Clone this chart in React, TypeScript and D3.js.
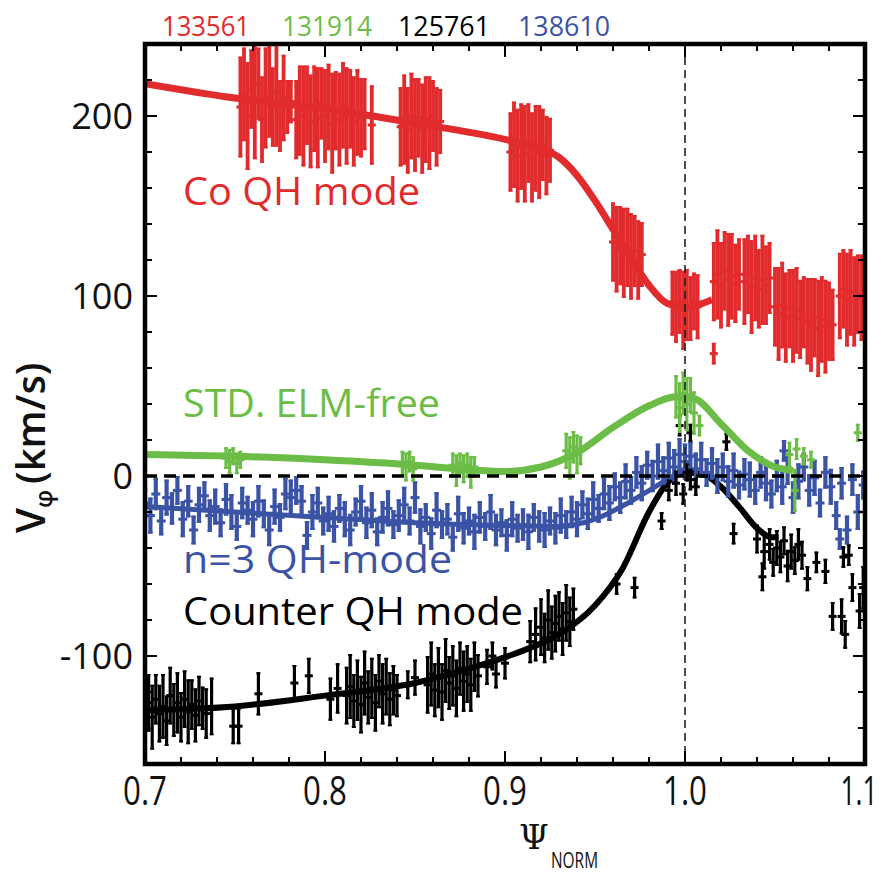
import React from 'react';
import * as d3 from 'd3';

type P = [number, number, number];
type F = [number, number];

const xTickLabels = ['0.7', '0.8', '0.9', '1.0', '1.1'];
const xMajor = [0.7, 0.8, 0.9, 1.0, 1.1];
const yMajor = [-100, 0, 100, 200];
const yTickLabels = ['-100', '0', '100', '200'];
const shotLabels = ['133561', '131914', '125761', '138610'];
const seriesLabels = ['Co QH mode', 'STD. ELM-free', 'n=3 QH-mode', 'Counter QH mode'];

const redFit: F[] = [[0.70,218],[0.75,210],[0.80,204],[0.85,196],[0.90,187],[0.92,182],[0.93,177],[0.94,167],[0.95,153],[0.96,137],[0.97,121],[0.98,106],[0.99,96],[1.00,94],[1.01,96],[1.015,98]];
const greenFit: F[] = [[0.70,12],[0.75,11],[0.80,9],[0.85,6],[0.88,3.5],[0.90,2.5],[0.92,5],[0.94,13],[0.96,27],[0.98,39],[0.995,44],[1.005,43],[1.02,29],[1.035,14],[1.05,5],[1.06,3]];
const blueFit: F[] = [[0.70,-17],[0.75,-20],[0.80,-23],[0.85,-26],[0.90,-27.5],[0.93,-28],[0.95,-24],[0.97,-14],[0.99,-2],[1.00,4]];
const blackFit: F[] = [[0.70,-130],[0.75,-128],[0.80,-122],[0.85,-115],[0.88,-107],[0.91,-97],[0.93,-88],[0.95,-72],[0.965,-52],[0.98,-20],[0.99,-4],[1.0,2],[1.01,1],[1.02,-6],[1.03,-17],[1.04,-29],[1.048,-34],[1.052,-34]];

const redPts: P[] = [
  [0.700,218,2],
  [0.753,205,28],[0.755,212,26],[0.757,200,30],[0.759,215,22],[0.761,208,32],[0.763,218,20],[0.765,198,24],[0.767,210,28],[0.769,214,26],[0.771,205,22],[0.773,213,30],[0.775,200,20],[0.777,210,24],[0.779,205,15],[0.781,208,12],
  [0.784,198,22],[0.786,203,25],[0.788,200,28],[0.790,206,22],[0.792,197,26],[0.794,204,24],[0.796,199,28],[0.798,207,20],[0.800,200,26],[0.802,205,24],[0.804,196,28],[0.806,203,22],[0.808,198,26],[0.810,206,24],[0.812,200,27],[0.814,204,22],[0.816,197,25],[0.818,202,24],[0.820,199,22],[0.822,201,20],[0.826,195,22],
  [0.842,194,22],[0.844,198,25],[0.846,192,24],[0.848,200,24],[0.850,195,26],[0.852,199,22],[0.854,193,25],[0.856,198,24],[0.858,196,26],[0.860,200,20],[0.862,194,22],[0.864,197,18],
  [0.903,180,22],[0.905,184,24],[0.907,178,26],[0.909,183,24],[0.911,179,27],[0.913,185,22],[0.915,177,25],[0.917,182,24],[0.919,180,26],[0.921,184,20],[0.923,178,22],[0.925,181,18],
  [0.960,130,22],[0.962,126,24],[0.964,128,22],[0.966,124,25],[0.968,127,22],[0.970,122,24],[0.972,125,20],[0.974,120,22],[0.976,123,18],
  [0.993,96,18],[0.995,94,20],[0.997,97,18],[0.999,92,22],[1.001,95,20],[1.003,93,18],[1.005,97,16],[1.007,94,18],[1.016,68,6],
  [1.016,108,22],[1.018,112,25],[1.020,106,24],[1.022,114,22],[1.024,109,26],[1.026,111,24],[1.028,107,22],[1.030,112,20],
  [1.033,108,24],[1.035,112,22],[1.037,105,26],[1.039,110,24],[1.041,104,22],[1.043,109,25],[1.045,106,22],[1.047,110,20],
  [1.050,94,22],[1.052,90,26],[1.054,95,24],[1.056,88,25],[1.058,93,22],[1.060,89,26],[1.062,92,24],[1.064,87,22],[1.066,91,20],
  [1.068,86,24],[1.070,84,26],[1.072,88,22],[1.074,82,27],[1.076,87,24],[1.078,83,26],[1.080,86,22],[1.082,84,20],
  [1.086,100,24],[1.088,104,22],[1.090,98,26],[1.092,102,24],[1.094,97,25],[1.096,101,22],[1.098,99,24]
];

const greenPts: P[] = [
  [0.700,12,2],
  [0.745,10,6],[0.747,8,7],[0.749,11,5],[0.751,7,6],[0.753,9,5],
  [0.843,7,7],[0.845,5,8],[0.847,8,6],[0.849,4,7],
  [0.871,6,7],[0.873,3,9],[0.875,7,6],[0.877,4,8],[0.879,6,7],[0.881,2,9],[0.883,5,6],
  [0.934,14,10],[0.936,10,12],[0.938,16,9],[0.940,12,11],[0.942,14,8],
  [0.995,44,12],[0.997,38,14],[0.999,46,12],[1.001,40,15],[1.003,45,10],[1.005,35,12],[1.008,28,6],
  [1.058,12,7],[1.062,15,6],[1.066,11,5],[1.070,9,5],[1.061,-8,12],[1.096,24,5]
];

const bluePts: P[] = [
  [0.700,-15,8],[0.703,-22,10],[0.706,-10,9],[0.709,-25,8],[0.712,-12,10],[0.715,-18,9],[0.718,-8,8],[0.721,-24,10],[0.724,-14,9],[0.727,-30,8],
  [0.730,-16,10],[0.733,-11,8],[0.736,-22,9],[0.739,-17,10],[0.742,-26,8],[0.745,-13,9],[0.748,-20,10],[0.751,-28,8],[0.754,-15,9],[0.757,-19,8],
  [0.760,-24,10],[0.763,-14,9],[0.766,-21,8],[0.769,-30,9],[0.772,-17,10],[0.775,-23,8],[0.778,-10,9],[0.781,-12,10],[0.784,-8,8],[0.787,-14,9],
  [0.790,-33,8],[0.793,-20,10],[0.796,-15,9],[0.799,-25,8],[0.802,-21,10],[0.805,-28,9],[0.808,-18,8],[0.811,-24,10],[0.814,-30,9],[0.817,-20,8],
  [0.820,-14,9],[0.823,-26,9],[0.826,-19,10],[0.829,-31,8],[0.832,-23,9],[0.835,-18,10],[0.838,-27,8],[0.841,-22,9],[0.844,-16,10],[0.847,-25,8],
  [0.850,-12,9],[0.853,-28,10],[0.856,-23,8],[0.859,-32,9],[0.862,-19,10],[0.865,-27,8],[0.868,-24,9],[0.871,-34,8],[0.874,-21,10],[0.877,-29,9],
  [0.880,-25,8],[0.883,-31,10],[0.886,-23,9],[0.889,-28,8],[0.892,-20,10],[0.895,-30,9],[0.898,-26,8],[0.901,-33,9],[0.904,-24,10],[0.907,-29,8],
  [0.910,-27,9],[0.913,-31,10],[0.916,-23,8],[0.919,-28,9],[0.922,-30,10],[0.925,-25,8],[0.928,-29,9],[0.931,-22,10],[0.934,-27,8],[0.937,-20,9],
  [0.940,-24,10],[0.943,-16,8],[0.946,-21,9],[0.949,-13,10],[0.952,-18,8],[0.955,-10,9],[0.958,-15,10],[0.961,-6,8],[0.964,-12,9],[0.967,-3,10],
  [0.970,-8,8],[0.973,2,9],[0.976,-4,10],[0.979,6,8],[0.982,0,9],[0.985,8,10],[0.988,3,8],[0.991,10,9],[0.994,5,10],[0.997,12,9],
  [1.000,8,10],[1.003,11,8],[1.006,4,9],[1.009,9,10],[1.012,2,8],[1.015,7,9],[1.018,0,10],[1.021,5,8],[1.024,-3,9],[1.027,3,10],
  [1.030,-5,8],[1.033,1,9],[1.036,-2,10],[1.039,-8,8],[1.042,2,9],[1.045,-4,10],[1.048,-10,8],[1.051,0,9],[1.054,-6,10],[1.057,3,8],
  [1.060,-12,9],[1.063,-3,10],[1.066,5,8],[1.069,-8,9],[1.072,-1,10],[1.075,-15,8],[1.078,2,9],[1.081,-6,10],[1.084,-22,8],[1.087,-4,9],
  [1.090,-30,8],[1.093,-2,9],[1.096,-20,10],[1.099,-5,8],[1.086,-35,6],[1.055,14,6]
];

const blackPts: P[] = [
  [0.700,-130,14],[0.702,-126,16],[0.704,-134,18],[0.706,-124,14],[0.708,-132,16],[0.710,-128,18],[0.712,-136,14],[0.714,-122,16],[0.716,-130,15],[0.718,-126,17],
  [0.720,-134,14],[0.722,-124,16],[0.724,-131,18],[0.726,-127,14],[0.728,-133,15],[0.730,-125,14],[0.732,-129,12],[0.734,-132,14],[0.737,-128,16],
  [0.749,-139,10],[0.752,-139,10],[0.763,-121,12],[0.783,-115,10],[0.791,-111,10],[0.803,-124,12],[0.807,-118,14],
  [0.812,-122,16],[0.814,-117,18],[0.816,-125,15],[0.818,-119,17],[0.820,-127,16],[0.822,-115,18],[0.824,-123,15],[0.826,-118,17],[0.828,-126,16],[0.830,-114,15],
  [0.832,-121,17],[0.834,-117,16],[0.836,-124,15],[0.838,-119,14],[0.840,-122,12],[0.846,-116,8],[0.850,-112,10],
  [0.857,-116,16],[0.859,-110,18],[0.861,-119,15],[0.863,-112,17],[0.865,-120,16],[0.867,-108,18],[0.869,-115,15],[0.871,-111,17],[0.873,-118,16],[0.875,-107,15],
  [0.877,-114,17],[0.879,-110,16],[0.881,-116,15],[0.883,-106,14],[0.885,-111,12],[0.890,-106,10],[0.893,-100,8],[0.895,-110,8],[0.900,-104,9],
  [0.914,-92,12],[0.917,-88,15],[0.920,-84,16],[0.922,-90,14],[0.924,-80,17],[0.926,-87,15],[0.928,-82,16],[0.930,-78,14],[0.932,-85,15],[0.934,-76,16],[0.936,-81,14],[0.938,-74,12],
  [0.962,-60,6],[0.972,-62,6],[0.987,-25,5],[0.991,-8,6],[0.995,-4,7],[0.999,-10,6],[1.003,-2,6],[0.997,28,6],[1.003,24,5],[1.001,2,5],[1.006,-6,5],[1.023,19,5],[1.027,-32,6],
  [1.040,-35,8],[1.044,-42,10],[1.047,-38,9],[1.049,-48,8],[1.051,-40,10],[1.053,-45,9],[1.055,-36,8],[1.057,-50,9],[1.059,-42,10],[1.061,-47,8],[1.063,-38,9],[1.065,-44,8],
  [1.043,-56,8],[1.068,-57,7],[1.073,-48,6],[1.078,-53,7],[1.088,-45,6],[1.091,-44,6],[1.082,-78,8],[1.087,-78,10],[1.089,-88,8],[1.093,-62,8],[1.097,-75,10],[1.099,-62,12]
];

const RED = '#e22b2c';
const GREEN = '#6cbd47';
const BLUE = '#3b53a4';
const BLACK = '#000000';

const L = 145, R = 865, T = 44, B = 764;

export default function App() {
  const x = d3.scaleLinear().domain([0.7, 1.1]).range([L, R]);
  const y = d3.scaleLinear().domain([-160, 240]).range([B, T]);
  const line = d3.line<F>().x(d => x(d[0])).y(d => y(d[1])).curve(d3.curveMonotoneX);

  const minorX = d3.range(0.7, 1.1001, 0.02).filter(v => !xMajor.some(m => Math.abs(m - v) < 1e-6));
  const minorY = d3.range(-160, 241, 20).filter(v => !yMajor.includes(v));

  const bars = (pts: P[], color: string, sw: number, key: string, capW: number) => (
    <g key={key} stroke={color} strokeWidth={sw} fill={color}>
      {pts.map((p, i) => {
        const px = x(p[0]);
        const y1 = y(p[1] + p[2]);
        const y2 = y(p[1] - p[2]);
        const yc = y(p[1]);
        return (
          <g key={i}>
            <line x1={px} x2={px} y1={y1} y2={y2} />
            <line x1={px - capW} x2={px + capW} y1={yc} y2={yc} strokeWidth={3} />
            <line x1={px - capW / 2} x2={px + capW / 2} y1={y1 + 1} y2={y1 + 1} strokeWidth={2} />
            <line x1={px - capW / 2} x2={px + capW / 2} y1={y2 - 1} y2={y2 - 1} strokeWidth={2} />
          </g>
        );
      })}
    </g>
  );

  const font = '"Open Sans", "Noto Sans", sans-serif';
  const shotColors = [RED, GREEN, BLACK, BLUE];
  const shotX = [162, 282, 398, 518];
  const shotW = [88, 90, 92, 92];
  const xLabX = [0, 0, 0, 0, -6];
  const xLabS = [0.78, 0.78, 0.78, 0.78, 0.66];

  return (
    <svg width={886} height={874} style={{ position: 'absolute', left: 0, top: 0, background: '#fff' }}>
      <defs>
        <clipPath id="plot">
          <rect x={L} y={T} width={R - L} height={B - T} />
        </clipPath>
      </defs>
      <rect x={0} y={0} width={886} height={874} fill="#fff" />
      <g clipPath="url(#plot)">
        <path d={line(blackFit) || ''} fill="none" stroke={BLACK} strokeWidth={6} />
        <path d={line(blueFit) || ''} fill="none" stroke={BLUE} strokeWidth={5} />
        {bars(bluePts, BLUE, 4.2, 'blue', 4.5)}
        {bars(blackPts, BLACK, 3.2, 'black', 4)}
        <path d={line(greenFit) || ''} fill="none" stroke={GREEN} strokeWidth={7} />
        {bars(greenPts, GREEN, 3.2, 'green', 4)}
        <path d={line(redFit) || ''} fill="none" stroke={RED} strokeWidth={7} />
        {bars(redPts, RED, 3.8, 'red', 4)}
        <line x1={L} x2={R} y1={y(0)} y2={y(0)} stroke="#000" strokeWidth={3.5} strokeDasharray="12 7" />
        <line x1={x(1.0)} x2={x(1.0)} y1={T} y2={B} stroke="#222" strokeWidth={1.6} strokeDasharray="8 5" />
      </g>

      <g stroke="#000" strokeWidth={2}>
        {minorX.map((v, i) => (
          <g key={'mx' + i}>
            <line x1={x(v)} x2={x(v)} y1={B} y2={B - 7} />
            <line x1={x(v)} x2={x(v)} y1={T} y2={T + 7} />
          </g>
        ))}
        {xMajor.map((v, i) => (
          <g key={'Mx' + i}>
            <line x1={x(v)} x2={x(v)} y1={B} y2={B - 13} />
            <line x1={x(v)} x2={x(v)} y1={T} y2={T + 13} />
          </g>
        ))}
        {minorY.map((v, i) => (
          <g key={'my' + i}>
            <line x1={L} x2={L + 7} y1={y(v)} y2={y(v)} />
            <line x1={R} x2={R - 7} y1={y(v)} y2={y(v)} />
          </g>
        ))}
        {yMajor.map((v, i) => (
          <g key={'My' + i}>
            <line x1={L} x2={L + 12} y1={y(v)} y2={y(v)} />
            <line x1={R} x2={R - 12} y1={y(v)} y2={y(v)} />
          </g>
        ))}
      </g>
      <rect x={L} y={T} width={R - L} height={B - T} fill="none" stroke="#000" strokeWidth={4.5} />

      <g fontFamily={font} fill="#111">
        {xMajor.map((v, i) => (
          <text key={'xl' + i} transform={`translate(${x(v) + xLabX[i]},805) scale(${xLabS[i]},1)`} fontSize={40} textAnchor="middle">{xTickLabels[i]}</text>
        ))}
        {yMajor.map((v, i) => (
          <text key={'yl' + i} x={133} y={y(v) + 13} fontSize={36} textAnchor="end">{yTickLabels[i]}</text>
        ))}
      </g>

      <g fontFamily={font} fontSize={27}>
        {shotLabels.map((s, i) => (
          <text key={s} x={shotX[i]} y={36} fill={shotColors[i]} textLength={shotW[i]} lengthAdjust="spacingAndGlyphs">{s}</text>
        ))}
      </g>

      <g fontFamily={font} fontSize={38}>
        <text x={183} y={205} fill={RED} textLength={237} lengthAdjust="spacingAndGlyphs">{seriesLabels[0]}</text>
        <text x={183} y={417} fill={GREEN} textLength={257} lengthAdjust="spacingAndGlyphs">{seriesLabels[1]}</text>
        <text x={183} y={573} fill={BLUE} textLength={269} lengthAdjust="spacingAndGlyphs">{seriesLabels[2]}</text>
        <text x={183} y={625} fill={BLACK} textLength={340} lengthAdjust="spacingAndGlyphs">{seriesLabels[3]}</text>
      </g>

      <g fontFamily={font} fill="#111">
        <text x={534} y={849} fontSize={34} textAnchor="middle" fontFamily='"DejaVu Serif", serif'>Ψ</text>
        <text x={551} y={868} fontSize={21} textLength={47} lengthAdjust="spacingAndGlyphs">NORM</text>
        <g transform="translate(45,533) rotate(-90)">
          <text x={0} y={0} fontSize={40} fontWeight={600}>
            <tspan>V</tspan>
            <tspan fontSize={24} dy={7}>φ</tspan>
            <tspan dy={-7} dx={6}>(km/s)</tspan>
          </text>
        </g>
      </g>
    </svg>
  );
}
